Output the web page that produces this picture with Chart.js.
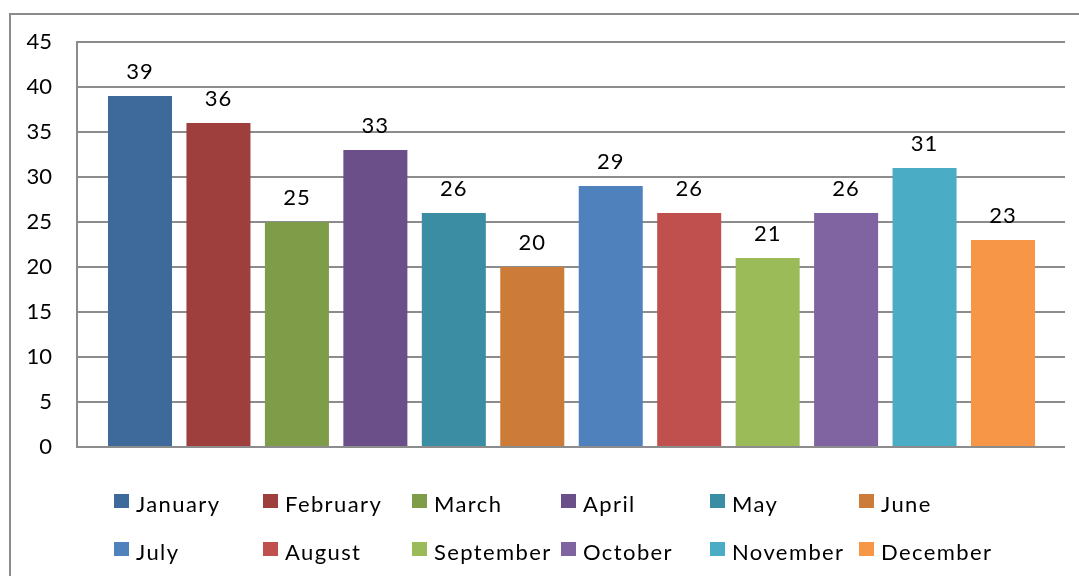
<!DOCTYPE html>
<html>
<head>
<meta charset="utf-8">
<script src="https://cdn.jsdelivr.net/npm/chart.js@4/dist/chart.umd.min.js"></script>
<style>
  html, body { margin: 0; padding: 0; background: #fff; }
  #wrap { position: relative; width: 1079px; height: 576px; }
</style>
</head>
<body>
<div id="wrap"><canvas id="c"></canvas></div>
<script>
const months = ["January","February","March","April","May","June","July","August","September","October","November","December"];
const values = [39, 36, 25, 33, 26, 20, 29, 26, 21, 26, 31, 23];
const colors = ["#3E6A9B","#9E3F3E","#7F9C48","#6A4F88","#3B8DA4","#CC7B38","#4F81BD","#C0504D","#9BBB59","#8064A2","#4BACC6","#F79646"];
const yTicks = [0, 5, 10, 15, 20, 25, 30, 35, 40, 45];

const FONT = "Lato, 'Open Sans', sans-serif";
const GRID = "#8C8C8C";

const frame = {
  id: 'frame',
  beforeDraw(chart) {
    const ctx = chart.ctx;
    ctx.save();
    ctx.strokeStyle = GRID;
    ctx.lineWidth = 2;
    ctx.beginPath();
    ctx.moveTo(10, 700);
    ctx.lineTo(10, 14);
    ctx.lineTo(1200, 14);
    ctx.stroke();
    ctx.restore();
  }
};

const valueLabels = {
  id: 'valueLabels',
  afterDatasetsDraw(chart) {
    const ctx = chart.ctx;
    const meta = chart.getDatasetMeta(0);
    ctx.save();
    ctx.font = "22px " + FONT;
    ctx.letterSpacing = "1px";
    ctx.fillStyle = "#000";
    ctx.textAlign = "center";
    ctx.textBaseline = "alphabetic";
    meta.data.forEach((bar, i) => {
      ctx.fillText(String(values[i]), bar.x, bar.y - 17);
    });
    ctx.restore();
  }
};

const gridLegend = {
  id: 'gridLegend',
  afterDraw(chart) {
    const ctx = chart.ctx;
    ctx.save();
    ctx.font = "22px " + FONT;
    ctx.letterSpacing = "1.4px";
    ctx.textAlign = "left";
    ctx.textBaseline = "alphabetic";
    months.forEach((m, i) => {
      const col = i % 6, row = Math.floor(i / 6);
      const bx = 114 + col * 149;
      const by = 494 + row * 48;
      ctx.fillStyle = colors[i];
      ctx.fillRect(bx, by, 15, 14);
      ctx.fillStyle = "#000";
      ctx.fillText(m, bx + 22, by + 18);
    });
    ctx.restore();
  }
};

new Chart(document.getElementById('c'), {
  type: 'bar',
  data: {
    datasets: [{
      label: 'Value',
      data: values.map((v, i) => ({ x: i, y: v })),
      backgroundColor: colors,
      borderWidth: 0,
      categoryPercentage: 1,
      barPercentage: 0.816
    }]
  },
  options: {
    responsive: true,
    maintainAspectRatio: false,
    animation: false,
    layout: { padding: { top: 42, right: 14, bottom: 129, left: 0 } },
    plugins: { legend: { display: false }, tooltip: { enabled: false } },
    scales: {
      x: {
        type: 'linear',
        min: -0.803,
        max: 11.79,
        offset: false,
        bounds: 'ticks',
        display: false,
        grid: { offset: false }
      },
      y: {
        min: 0,
        max: 45,
        afterBuildTicks(scale) { scale.ticks = yTicks.map(v => ({ value: v })); },
        afterFit(scale) { scale.width = 77; },
        ticks: { font: { family: FONT, size: 22 }, color: "#000", padding: 25 },
        grid: { color: GRID, lineWidth: 2, drawTicks: false },
        border: { color: GRID, width: 2 }
      }
    }
  },
  plugins: [frame, valueLabels, gridLegend]
});
</script>
</body>
</html>
